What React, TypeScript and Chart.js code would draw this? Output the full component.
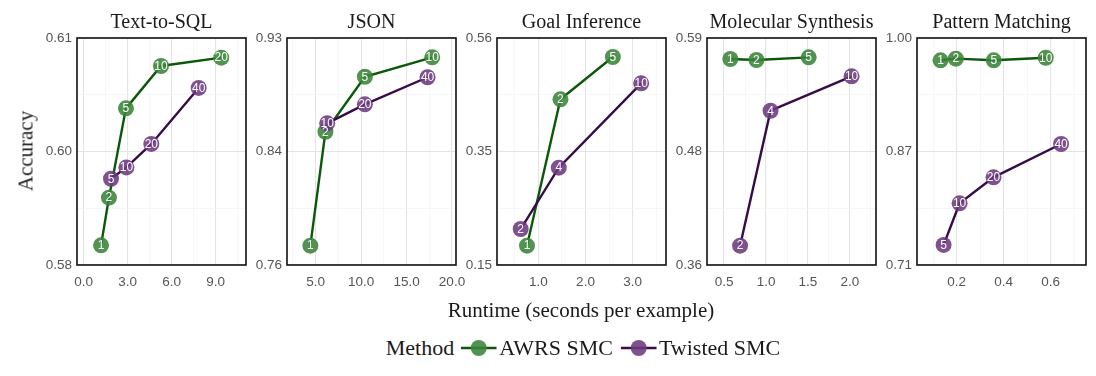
import React, { useEffect, useRef } from 'react';
import { Chart, registerables } from 'chart.js';

Chart.register(...registerables);

// ---------- data ----------
const panelTitles = ['Text-to-SQL', 'JSON', 'Goal Inference', 'Molecular Synthesis', 'Pattern Matching'];

// Text-to-SQL
const sqlAwrsRuntime = [1.18, 1.72, 2.88, 5.27, 9.38];
const sqlAwrsAccuracy = [0.5826, 0.5889, 0.6007, 0.6063, 0.6074];
const sqlAwrsParticles = ['1', '2', '5', '10', '20'];
const sqlTwistedRuntime = [1.86, 2.91, 4.61, 7.84];
const sqlTwistedAccuracy = [0.5914, 0.5929, 0.596, 0.6034];
const sqlTwistedParticles = ['5', '10', '20', '40'];
const sqlXLimits = [-0.46, 11.07];
const sqlXTicks = [0, 3, 6, 9];
const sqlXLabels = ['0.0', '3.0', '6.0', '9.0'];
const sqlYLimits = [0.58, 0.61];
const sqlYLabels = ['0.58', '0.60', '0.61'];

// JSON
const jsonAwrsRuntime = [4.41, 6.07, 10.41, 17.82];
const jsonAwrsAccuracy = [0.7745, 0.8598, 0.901, 0.9155];
const jsonAwrsParticles = ['1', '2', '5', '10'];
const jsonTwistedRuntime = [6.26, 10.41, 17.31];
const jsonTwistedAccuracy = [0.8661, 0.8803, 0.9006];
const jsonTwistedParticles = ['10', '20', '40'];
const jsonXLimits = [1.84, 20.44];
const jsonXTicks = [5, 10, 15, 20];
const jsonXLabels = ['5.0', '10.0', '15.0', '20.0'];
const jsonYLimits = [0.76, 0.93];
const jsonYLabels = ['0.76', '0.84', '0.93'];

// Goal Inference
const goalAwrsRuntime = [0.757, 1.468, 2.581];
const goalAwrsAccuracy = [0.1849, 0.4493, 0.5257];
const goalAwrsParticles = ['1', '2', '5'];
const goalTwistedRuntime = [0.623, 1.432, 3.183];
const goalTwistedAccuracy = [0.215, 0.3258, 0.4782];
const goalTwistedParticles = ['2', '4', '10'];
const goalXLimits = [0.12, 3.71];
const goalXTicks = [1, 2, 3];
const goalXLabels = ['1.0', '2.0', '3.0'];
const goalYLimits = [0.15, 0.56];
const goalYLabels = ['0.15', '0.35', '0.56'];

// Molecular Synthesis
const molAwrsRuntime = [0.575, 0.886, 1.508];
const molAwrsAccuracy = [0.5687, 0.5677, 0.5704];
const molAwrsParticles = ['1', '2', '5'];
const molTwistedRuntime = [0.691, 1.054, 2.019];
const molTwistedAccuracy = [0.3796, 0.5163, 0.5512];
const molTwistedParticles = ['2', '4', '10'];
const molXLimits = [0.297, 2.31];
const molXTicks = [0.5, 1.0, 1.5, 2.0];
const molXLabels = ['0.5', '1.0', '1.5', '2.0'];
const molYLimits = [0.36, 0.59];
const molYLabels = ['0.36', '0.48', '0.59'];

// Pattern Matching
const patAwrsRuntime = [0.132, 0.197, 0.358, 0.579];
const patAwrsAccuracy = [0.9715, 0.9736, 0.9715, 0.9748];
const patAwrsParticles = ['1', '2', '5', '10'];
const patTwistedRuntime = [0.145, 0.213, 0.357, 0.644];
const patTwistedAccuracy = [0.7356, 0.7888, 0.822, 0.8646];
const patTwistedParticles = ['5', '10', '20', '40'];
const patXLimits = [0.032, 0.75];
const patXTicks = [0.2, 0.4, 0.6];
const patXLabels = ['0.2', '0.4', '0.6'];
const patYLimits = [0.71, 1.0];
const patYLabels = ['0.71', '0.87', '1.00'];

const methodNames = ['AWRS SMC', 'Twisted SMC'];

// ---------- styling ----------
const GREEN_LINE = '#0b580b';
const GREEN_PT = 'rgba(58,132,58,0.88)';
const PURPLE_LINE = '#360b48';
const PURPLE_PT = 'rgba(108,58,126,0.88)';
const SERIF = '"Liberation Serif", "DejaVu Serif", serif';
const SANS = '"Liberation Sans", Arial, sans-serif';

const PLOT_W = 169;
const AXIS_W = 44;
const CANVAS_H = 295;

const panels = [
  { ax: sqlAwrsRuntime, ay: sqlAwrsAccuracy, an: sqlAwrsParticles, tx: sqlTwistedRuntime, ty: sqlTwistedAccuracy, tn: sqlTwistedParticles, xl: sqlXLimits, xt: sqlXTicks, xlab: sqlXLabels, yl: sqlYLimits, ylab: sqlYLabels },
  { ax: jsonAwrsRuntime, ay: jsonAwrsAccuracy, an: jsonAwrsParticles, tx: jsonTwistedRuntime, ty: jsonTwistedAccuracy, tn: jsonTwistedParticles, xl: jsonXLimits, xt: jsonXTicks, xlab: jsonXLabels, yl: jsonYLimits, ylab: jsonYLabels },
  { ax: goalAwrsRuntime, ay: goalAwrsAccuracy, an: goalAwrsParticles, tx: goalTwistedRuntime, ty: goalTwistedAccuracy, tn: goalTwistedParticles, xl: goalXLimits, xt: goalXTicks, xlab: goalXLabels, yl: goalYLimits, ylab: goalYLabels },
  { ax: molAwrsRuntime, ay: molAwrsAccuracy, an: molAwrsParticles, tx: molTwistedRuntime, ty: molTwistedAccuracy, tn: molTwistedParticles, xl: molXLimits, xt: molXTicks, xlab: molXLabels, yl: molYLimits, ylab: molYLabels },
  { ax: patAwrsRuntime, ay: patAwrsAccuracy, an: patAwrsParticles, tx: patTwistedRuntime, ty: patTwistedAccuracy, tn: patTwistedParticles, xl: patXLimits, xt: patXTicks, xlab: patXLabels, yl: patYLimits, ylab: patYLabels },
];

const near = (a: number, b: number) => Math.abs(a - b) < 1e-9;

const pointLabelPlugin = {
  id: 'pointLabels',
  afterDatasetsDraw(chart: any) {
    const ctx = chart.ctx;
    ctx.save();
    ctx.font = `12px ${SANS}`;
    ctx.fillStyle = '#ffffff';
    ctx.textAlign = 'center';
    ctx.textBaseline = 'middle';
    chart.data.datasets.forEach((ds: any, i: number) => {
      if (!ds.pointText) return;
      const meta = chart.getDatasetMeta(i);
      meta.data.forEach((el: any, j: number) => {
        ctx.fillText(ds.pointText[j], el.x, el.y + 0.5);
      });
    });
    ctx.restore();
  },
};

const borderPlugin = {
  id: 'panelBorder',
  afterDraw(chart: any) {
    const { ctx, chartArea } = chart;
    ctx.save();
    ctx.strokeStyle = '#111111';
    ctx.lineWidth = 1.6;
    ctx.strokeRect(chartArea.left, chartArea.top, chartArea.right - chartArea.left, chartArea.bottom - chartArea.top);
    ctx.restore();
  },
};

function Panel({ idx }: { idx: number }) {
  const ref = useRef<HTMLCanvasElement | null>(null);
  useEffect(() => {
    const p = panels[idx];
    const xMajor = p.xt;
    const step = xMajor[1] - xMajor[0];
    const xAll: number[] = [];
    [xMajor[0] - step, ...xMajor].forEach((v) => {
      xAll.push(v);
      xAll.push(v + step / 2);
    });
    xAll.push(xMajor[xMajor.length - 1] + step);
    const xTickVals = xAll.filter((v) => v >= p.xl[0] - 1e-9 && v <= p.xl[1] + 1e-9);
    const [y0, y1] = p.yl;
    const yMid = (y0 + y1) / 2;
    const yMajor = [y0, yMid, y1];
    const yTickVals = [y0, (y0 + yMid) / 2, yMid, (yMid + y1) / 2, y1];
    const isXMajor = (v: number) => xMajor.some((m) => near(m, v));
    const isYMajor = (v: number) => yMajor.some((m) => near(m, v));

    const toPts = (xs: number[], ys: number[]) => xs.map((x, i) => ({ x, y: ys[i] }));

    const chart = new Chart(ref.current as HTMLCanvasElement, {
      type: 'scatter',
      data: {
        datasets: [
          { label: methodNames[0], data: toPts(p.ax, p.ay), showLine: true, borderColor: GREEN_LINE, borderWidth: 2.4, pointRadius: 0, order: 4 } as any,
          { label: methodNames[1], data: toPts(p.tx, p.ty), showLine: true, borderColor: PURPLE_LINE, borderWidth: 2.4, pointRadius: 0, order: 3 } as any,
          { label: methodNames[0] + ' points', data: toPts(p.ax, p.ay), showLine: false, pointRadius: 8, backgroundColor: GREEN_PT, borderWidth: 0, order: 2, pointText: p.an } as any,
          { label: methodNames[1] + ' points', data: toPts(p.tx, p.ty), showLine: false, pointRadius: 8, backgroundColor: PURPLE_PT, borderWidth: 0, order: 1, pointText: p.tn } as any,
        ],
      },
      options: {
        animation: false,
        responsive: false,
        layout: { padding: { left: 0, right: AXIS_W, top: 0, bottom: 0 } },
        plugins: {
          legend: { display: false },
          tooltip: { enabled: false },
          title: {
            display: true,
            fullSize: false,
            text: panelTitles[idx],
            color: '#1a1a1a',
            font: { family: SERIF, size: 20, weight: 'normal' },
            padding: { top: 11, bottom: 3 },
          },
        },
        scales: {
          x: {
            type: 'linear',
            min: p.xl[0],
            max: p.xl[1],
            afterBuildTicks: (s: any) => {
              s.ticks = xTickVals.map((v) => ({ value: v }));
            },
            afterFit: (s: any) => {
              s.height = 30;
            },
            ticks: {
              autoSkip: false,
              maxRotation: 0,
              padding: 9,
              color: '#555555',
              font: { family: SANS, size: 13.5 },
              callback: (v: any) => {
                const i = xMajor.findIndex((m) => near(m, Number(v)));
                return i >= 0 ? p.xlab[i] : '';
              },
            },
            grid: {
              drawTicks: false,
              color: (c: any) => (c.tick && isXMajor(c.tick.value) ? '#e4e4e4' : '#f3f3f3'),
              lineWidth: (c: any) => (c.tick && isXMajor(c.tick.value) ? 1.1 : 0.7),
            },
            border: { display: false },
          },
          y: {
            type: 'linear',
            min: y0,
            max: y1,
            afterBuildTicks: (s: any) => {
              s.ticks = yTickVals.map((v) => ({ value: v }));
            },
            afterFit: (s: any) => {
              s.width = AXIS_W;
            },
            ticks: {
              autoSkip: false,
              padding: 5,
              color: '#555555',
              font: { family: SANS, size: 13.5 },
              callback: (v: any) => {
                const i = yMajor.findIndex((m) => near(m, Number(v)));
                return i >= 0 ? p.ylab[i] : '';
              },
            },
            grid: {
              drawTicks: false,
              color: (c: any) => (c.tick && isYMajor(c.tick.value) ? '#e4e4e4' : '#f3f3f3'),
              lineWidth: (c: any) => (c.tick && isYMajor(c.tick.value) ? 1.1 : 0.7),
            },
            border: { display: false },
          },
        },
      } as any,
      plugins: [pointLabelPlugin, borderPlugin],
    });
    return () => chart.destroy();
  }, [idx]);

  const plotLeft = 77 + 210 * idx;
  const w = AXIS_W + PLOT_W + AXIS_W;
  return (
    <canvas
      ref={ref}
      width={w}
      height={CANVAS_H}
      style={{ position: 'absolute', left: plotLeft - AXIS_W, top: 0, width: w, height: CANVAS_H }}
    />
  );
}

function LegendGlyph({ line, fill }: { line: string; fill: string }) {
  return (
    <svg width="36" height="18" style={{ display: 'block', margin: '0 2px' }}>
      <line x1="0" y1="9" x2="36" y2="9" stroke={line} strokeWidth="2.4" />
      <circle cx="18" cy="9" r="8" fill={fill} />
    </svg>
  );
}

export default function App() {
  return (
    <div style={{ position: 'absolute', left: 0, top: 0, width: 1096, height: 376, background: '#ffffff', overflow: 'hidden' }}>
      {panels.map((_, i) => (
        <Panel key={i} idx={i} />
      ))}
      <div
        style={{
          position: 'absolute',
          left: 26,
          top: 151,
          transform: 'translate(-50%, -50%) rotate(-90deg)',
          fontFamily: SERIF,
          fontSize: 21,
          color: '#1a1a1a',
          whiteSpace: 'nowrap',
          lineHeight: 1,
        }}
      >
        Accuracy
      </div>
      <div
        style={{
          position: 'absolute',
          left: 581,
          top: 310,
          transform: 'translate(-50%, -50%)',
          fontFamily: SERIF,
          fontSize: 21,
          color: '#1a1a1a',
          whiteSpace: 'nowrap',
          lineHeight: 1,
        }}
      >
        Runtime (seconds per example)
      </div>
      <div
        style={{
          position: 'absolute',
          left: 583,
          top: 348,
          transform: 'translate(-50%, -50%)',
          display: 'flex',
          alignItems: 'center',
          fontFamily: SERIF,
          fontSize: 22,
          color: '#1a1a1a',
          whiteSpace: 'nowrap',
          lineHeight: 1,
        }}
      >
        <span style={{ marginRight: 5 }}>Method</span>
        <LegendGlyph line={GREEN_LINE} fill={GREEN_PT} />
        <span style={{ marginRight: 6 }}>{methodNames[0]}</span>
        <LegendGlyph line={PURPLE_LINE} fill={PURPLE_PT} />
        <span>{methodNames[1]}</span>
      </div>
    </div>
  );
}
